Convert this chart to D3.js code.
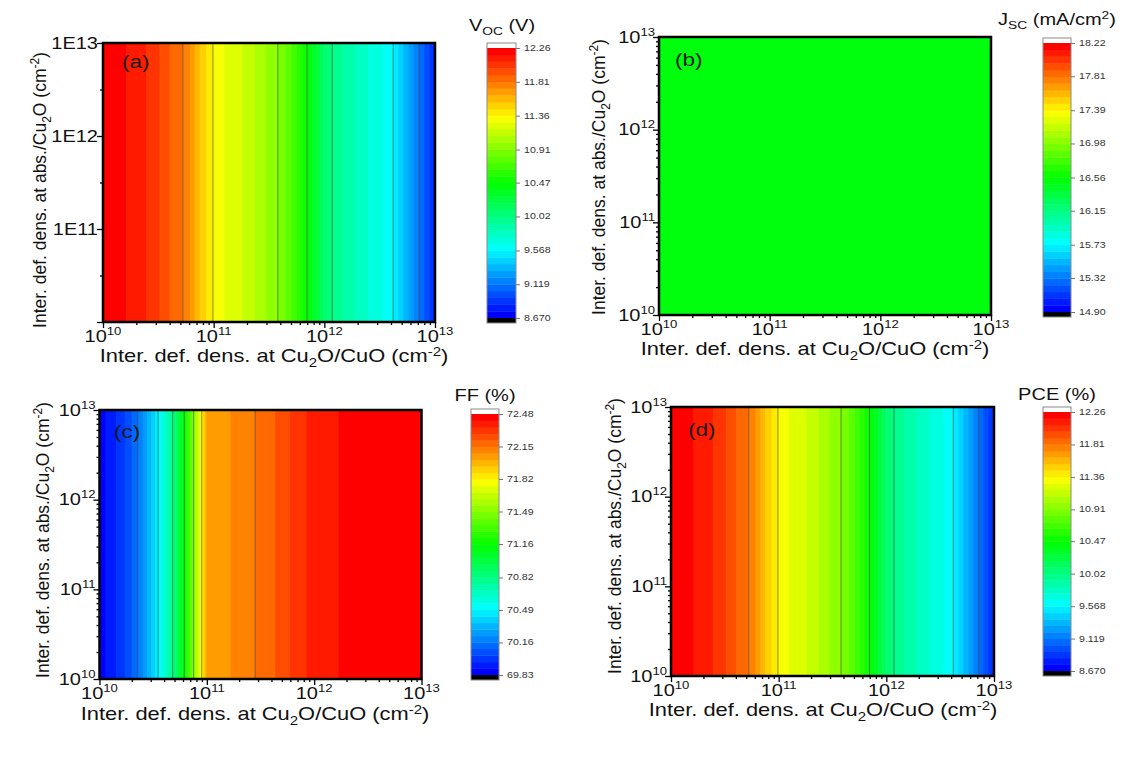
<!DOCTYPE html>
<html>
<head>
<meta charset="utf-8">
<script src="https://cdn.jsdelivr.net/npm/d3@7"></script>
<style>
    body { margin: 0; background: #fff; }
    svg text { font-family: "Liberation Sans", Arial, sans-serif; fill: #111; }
</style>
</head>
<body>
<svg width="1139" height="759"></svg>
<script>
// sample positions along Cu2O/CuO interface defect density (log10 cm^-2)
var xExp = [10, 10.125, 10.25, 10.375, 10.5, 10.625, 10.75, 10.875, 11, 11.125, 11.25, 11.375, 11.5,
            11.625, 11.75, 11.875, 12, 12.125, 12.25, 12.375, 12.5, 12.625, 12.75, 12.875, 13];

// values (they do not change with the abs./Cu2O density)
var vocValues = [12.22, 12.19, 12.16, 12.09, 12.00, 11.88, 11.79, 11.54, 11.35, 11.25, 11.19, 11.09, 10.98,
                 10.87, 10.65, 10.41, 10.10, 9.96, 9.86, 9.76, 9.68, 9.565, 9.32, 9.08, 8.84];
var jscValues = [16.53, 16.53, 16.53, 16.53, 16.53, 16.53, 16.53, 16.53, 16.53, 16.53, 16.53, 16.53, 16.53,
                 16.53, 16.53, 16.53, 16.53, 16.53, 16.53, 16.53, 16.53, 16.53, 16.53, 16.53, 16.53];
var ffValues = [69.86, 69.94, 70.04, 70.18, 70.39, 70.66, 71.01, 71.48, 72.03, 72.06, 72.09, 72.12, 72.17,
                72.21, 72.27, 72.33, 72.37, 72.39, 72.42, 72.43, 72.44, 72.44, 72.45, 72.45, 72.46];
var pceValues = [12.22, 12.19, 12.16, 12.09, 12.00, 11.88, 11.79, 11.54, 11.35, 11.25, 11.19, 11.09, 10.98,
                 10.87, 10.65, 10.41, 10.10, 9.96, 9.86, 9.76, 9.68, 9.565, 9.32, 9.08, 8.84];

// colour bar ticks (min ... max)
var vocTicks = [8.670, 9.119, 9.568, 10.02, 10.47, 10.91, 11.36, 11.81, 12.26];
var jscTicks = [14.90, 15.32, 15.73, 16.15, 16.56, 16.98, 17.39, 17.81, 18.22];
var ffTicks = [69.83, 70.16, 70.49, 70.82, 71.16, 71.49, 71.82, 72.15, 72.48];
var pceTicks = [8.670, 9.119, 9.568, 10.02, 10.47, 10.91, 11.36, 11.81, 12.26];

var axisMajor = [1e10, 1e11, 1e12, 1e13];
var axisExpLabels = ["10", "11", "12", "13"];
var eLabels = ["", "1E11", "1E12", "1E13"];

var svg = d3.select("svg");
var SX = 1.25;       // text in the figure is drawn a bit wide
var NLEV = 40;
var palette = d3.scaleLinear()
    .domain([0, 0.25, 0.5, 0.75, 1])
    .range(["#0000ff", "#00ffff", "#00ff00", "#ffff00", "#ff0000"]);

var panels = [
    {tag: "(a)", values: vocValues, ticks: vocTicks, yStyle: "E",
        box: [103, 435, 43, 322], cbar: [487, 516, 43, 323],
        tagPos: [122, 68], xTitlePos: [274, 362], yTitlePos: [46, 190],
        cbTitle: [["V", 0], ["OC", 1], [" (V)", 0]], cbTitlePos: [502, 31]},
    {tag: "(b)", values: jscValues, ticks: jscTicks, yStyle: "pow",
        box: [659, 991, 37, 315], cbar: [1043, 1071, 38, 317],
        tagPos: [675, 66], xTitlePos: [815, 355], yTitlePos: [605, 177],
        cbTitle: [["J", 0], ["SC", 1], [" (mA/cm", 0], ["2", 2], [")", 0]], cbTitlePos: [1057, 25]},
    {tag: "(c)", values: ffValues, ticks: ffTicks, yStyle: "pow",
        box: [99.5, 421.5, 410, 679], cbar: [471, 499, 409, 680],
        tagPos: [114, 438], xTitlePos: [255, 720], yTitlePos: [49, 540],
        cbTitle: [["FF (%)", 0]], cbTitlePos: [485, 401]},
    {tag: "(d)", values: pceValues, ticks: pceTicks, yStyle: "pow",
        box: [671, 994, 407, 676], cbar: [1043, 1071, 407, 676],
        tagPos: [688, 436], xTitlePos: [823, 716], yTitlePos: [621, 536],
        cbTitle: [["PCE (%)", 0]], cbTitlePos: [1057, 400]}
];

var xTitleParts = [["Inter. def. dens. at Cu", 0], ["2", 1], ["O/CuO (cm", 0], ["-2", 2], [")", 0]];
var yTitleParts = [["Inter. def. dens. at abs./Cu", 0], ["2", 1], ["O (cm", 0], ["-2", 2], [")", 0]];

function pow10(e) {
    return Math.pow(10, e);
}

// text with sub (1) / superscript (2) pieces
function richText(t, parts, size, small) {
    var shift = 0;
    parts.forEach(function (p) {
        var target = p[1] === 1 ? size * 0.28 : p[1] === 2 ? -size * 0.36 : 0;
        var sp = t.append("tspan").attr("dy", target - shift).text(p[0]);
        if (p[1]) sp.style("font-size", small + "px");
        shift = target;
    });
    return t;
}

function stretchText(parent, x, y, anchor, size) {
    return parent.append("text")
        .attr("transform", "translate(" + x + "," + y + ") scale(" + SX + ",1)")
        .attr("text-anchor", anchor)
        .style("font-size", size + "px");
}

function powLabel(parent, x, y, anchor, exp) {
    var t = stretchText(parent, x, y, anchor, 16);
    t.append("tspan").text("10");
    t.append("tspan").attr("dy", -7).style("font-size", "10.5px").text(exp);
}

function drawPanel(p) {
    var g = svg.append("g");
    var L = p.box[0], R = p.box[1], T = p.box[2], B = p.box[3];
    var x = d3.scaleLog().domain([1e10, 1e13]).range([L, R]);
    var y = d3.scaleLog().domain([1e10, 1e13]).range([B, T]);
    var lo = p.ticks[0], hi = p.ticks[p.ticks.length - 1];
    var step = (hi - lo) / NLEV;

    function bandOf(v) {
        if (v > hi) return NLEV;
        if (v < lo) return -1;
        return Math.min(NLEV - 1, Math.floor((v - lo) / step));
    }
    function colorOf(k) {
        if (k >= NLEV) return "#ffffff";
        if (k < 0) return "#000000";
        return palette(k / (NLEV - 1));
    }

    // filled contour bands along x
    var pieces = [];
    var lines = [];
    var vals = p.values;
    for (var i = 0; i < xExp.length - 1; i++) {
        var e0 = xExp[i], e1 = xExp[i + 1], v0 = vals[i], v1 = vals[i + 1];
        var cuts = [e0, e1];
        if (v0 !== v1) {
            for (var k = 0; k <= NLEV; k++) {
                var lev = lo + k * step;
                if ((lev - v0) * (lev - v1) < 0) cuts.push(e0 + (e1 - e0) * (lev - v0) / (v1 - v0));
            }
            p.ticks.slice(1, -1).forEach(function (tv) {
                if ((tv - v0) * (tv - v1) < 0) lines.push(e0 + (e1 - e0) * (tv - v0) / (v1 - v0));
            });
        }
        cuts.sort(d3.ascending);
        for (var j = 0; j < cuts.length - 1; j++) {
            var mid = (cuts[j] + cuts[j + 1]) / 2;
            var band = bandOf(v0 + (v1 - v0) * (mid - e0) / (e1 - e0));
            var last = pieces[pieces.length - 1];
            if (last && last.k === band) {
                last.e1 = cuts[j + 1];
            } else {
                pieces.push({e0: cuts[j], e1: cuts[j + 1], k: band});
            }
        }
    }

    g.selectAll("rect.band")
        .data(pieces)
        .enter().append("rect")
        .attr("class", "band")
        .attr("x", function (d) { return x(pow10(d.e0)); })
        .attr("width", function (d) { return x(pow10(d.e1)) - x(pow10(d.e0)) + 0.6; })
        .attr("y", T)
        .attr("height", B - T)
        .style("fill", function (d) { return colorOf(d.k); });

    g.selectAll("line.iso")
        .data(lines)
        .enter().append("line")
        .attr("class", "iso")
        .attr("x1", function (d) { return x(pow10(d)); })
        .attr("x2", function (d) { return x(pow10(d)); })
        .attr("y1", T)
        .attr("y2", B)
        .style("stroke", "#4d4d4d")
        .style("stroke-opacity", 0.65)
        .style("stroke-width", 1);

    // axes
    var minorX = [];
    for (var d = 10; d < 13; d++) {
        for (var m = 2; m < 10; m++) minorX.push(m * pow10(d));
    }
    var minorY = p.yStyle === "E" ? [pow10(10.5), pow10(11.5), pow10(12.5)] : minorX;

    var axes = [
        g.append("g").attr("transform", "translate(0," + B + ")")
            .call(d3.axisBottom(x).tickValues(axisMajor).tickSize(6).tickFormat("")),
        g.append("g").attr("transform", "translate(0," + B + ")")
            .call(d3.axisBottom(x).tickValues(minorX).tickSize(3).tickFormat("")),
        g.append("g").attr("transform", "translate(" + L + ",0)")
            .call(d3.axisLeft(y).tickValues(axisMajor).tickSize(6).tickFormat("")),
        g.append("g").attr("transform", "translate(" + L + ",0)")
            .call(d3.axisLeft(y).tickValues(minorY).tickSize(3).tickFormat(""))
    ];
    axes.forEach(function (a) {
        a.select(".domain").remove();
        a.selectAll("line").style("stroke", "#000").style("stroke-width", 1.3);
    });

    g.append("rect")
        .attr("x", L).attr("y", T)
        .attr("width", R - L).attr("height", B - T)
        .style("fill", "none")
        .style("stroke", "#000")
        .style("stroke-width", 2.5);

    // tick labels
    axisMajor.forEach(function (v, idx) {
        powLabel(g, x(v), B + 20, "middle", axisExpLabels[idx]);
        if (p.yStyle === "E") {
            if (eLabels[idx]) stretchText(g, L - 5, y(v) + 5.7, "end", 16).text(eLabels[idx]);
        } else {
            powLabel(g, L - 4, y(v) + 5.7, "end", axisExpLabels[idx]);
        }
    });

    // axis titles
    richText(stretchText(g, p.xTitlePos[0], p.xTitlePos[1], "middle", 17.5), xTitleParts, 17.5, 12);
    richText(g.append("text")
        .attr("transform", "translate(" + p.yTitlePos[0] + "," + p.yTitlePos[1] + ") scale(1.07,1) rotate(-90)")
        .attr("text-anchor", "middle")
        .style("font-size", "17.5px"), yTitleParts, 17.5, 12);

    // panel tag
    stretchText(g, p.tagPos[0], p.tagPos[1], "start", 18).style("fill", "#1a1a1a").text(p.tag);

    // colour bar
    var cx0 = p.cbar[0], cx1 = p.cbar[1], ct = p.cbar[2], cbt = p.cbar[3], cap = 5;
    var cy = d3.scaleLinear().domain([lo, hi]).range([cbt - cap, ct + cap]);
    var levels = d3.range(NLEV);
    var cb = svg.append("g");
    cb.selectAll("rect.lev")
        .data(levels)
        .enter().append("rect")
        .attr("class", "lev")
        .attr("x", cx0)
        .attr("width", cx1 - cx0)
        .attr("y", function (k) { return cy(lo + (k + 1) * step); })
        .attr("height", function (k) { return cy(lo + k * step) - cy(lo + (k + 1) * step) + 0.4; })
        .style("fill", function (k) { return colorOf(k); });
    cb.append("rect").attr("x", cx0).attr("y", ct).attr("width", cx1 - cx0).attr("height", cap)
        .style("fill", "#ffffff");
    cb.append("rect").attr("x", cx0).attr("y", cbt - cap).attr("width", cx1 - cx0).attr("height", cap)
        .style("fill", "#000000");
    cb.append("rect").attr("x", cx0).attr("y", ct).attr("width", cx1 - cx0).attr("height", cbt - ct)
        .style("fill", "none").style("stroke", "#8a8a8a").style("stroke-width", 1);

    var cbAxis = cb.append("g").attr("transform", "translate(" + cx1 + ",0)")
        .call(d3.axisRight(cy).tickValues(p.ticks).tickSize(4).tickFormat(""));
    cbAxis.select(".domain").remove();
    cbAxis.selectAll("line").style("stroke", "#777").style("stroke-width", 1);

    var fmt = d3.format(".4g");
    p.ticks.forEach(function (tv) {
        stretchText(cb, cx1 + 8, cy(tv) + 3, "start", 8.5).style("fill", "#333").text(fmt(tv));
    });

    richText(stretchText(cb, p.cbTitlePos[0], p.cbTitlePos[1], "middle", 16), p.cbTitle, 16, 11);
}

panels.forEach(drawPanel);
</script>
</body>
</html>
